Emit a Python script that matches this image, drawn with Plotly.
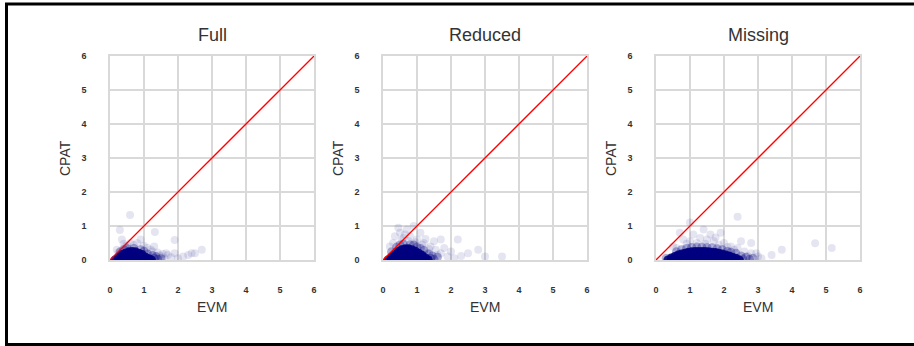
import plotly.graph_objects as go

# ---------------- data ----------------
panel_titles = ["Full", "Reduced", "Missing"]
axis_ticks = [0, 1, 2, 3, 4, 5, 6]
x_label = "EVM"
y_label = "CPAT"
diag_x = [0, 6]
diag_y = [0, 6]

# dense cores: one x per column, list of y values per column
full_core_x = [0.15, 0.25, 0.35, 0.45, 0.55, 0.65, 0.75, 0.85, 0.95, 1.05, 1.15, 1.22]
full_core_y = [[0.0], [0.0, 0.08], [0.0, 0.1, 0.16], [0.0, 0.1, 0.2],
               [0.0, 0.1, 0.2, 0.24], [0.0, 0.1, 0.2, 0.25], [0.0, 0.1, 0.2, 0.24],
               [0.0, 0.1, 0.2], [0.0, 0.1, 0.16], [0.0, 0.08], [0.0, 0.04], [0.0]]
full_mid_x = [1.3, 1.35, 1.4, 0.5, 0.7, 0.3, 0.9, 1.1, 1.25, 1.5, 0.4, 1.0]
full_mid_y = [0.05, 0.1, 0.02, 0.33, 0.34, 0.24, 0.3, 0.18, 0.13, 0.04, 0.3, 0.26]
full_halo_x = [0.2, 0.4, 0.6, 0.8, 1.0, 1.2, 1.4, 1.5, 1.6, 1.7, 1.8, 1.9, 2.0,
               0.35, 0.9, 1.3, 2.3, 2.5, 2.7, 0.59, 0.29, 1.32, 1.9, 2.4,
               0.5, 0.7, 1.1, 1.45, 1.65, 0.25, 0.45, 1.25, 1.55, 2.15]
full_halo_y = [0.3, 0.48, 0.5, 0.5, 0.42, 0.3, 0.22, 0.1, 0.05, 0.15, 0.08, 0.2, 0.05,
               0.6, 0.6, 0.4, 0.15, 0.2, 0.3, 1.32, 0.88, 0.82, 0.59, 0.2,
               0.42, 0.44, 0.36, 0.14, 0.2, 0.22, 0.4, 0.25, 0.18, 0.1]

reduced_core_x = [0.15, 0.25, 0.35, 0.45, 0.55, 0.65, 0.75, 0.85, 0.95, 1.05, 1.15, 1.25, 1.33]
reduced_core_y = [[0.0], [0.0, 0.08], [0.0, 0.1, 0.16], [0.0, 0.1, 0.2, 0.25],
                  [0.0, 0.1, 0.2, 0.3], [0.0, 0.1, 0.2, 0.3, 0.33],
                  [0.0, 0.1, 0.2, 0.3, 0.33], [0.0, 0.1, 0.2, 0.3],
                  [0.0, 0.1, 0.2, 0.26], [0.0, 0.1, 0.2], [0.0, 0.1, 0.14],
                  [0.0, 0.06], [0.0]]
reduced_mid_x = [1.4, 1.45, 1.5, 0.4, 0.6, 0.8, 1.0, 1.2, 1.35, 0.25, 1.6, 0.5, 0.9, 1.1]
reduced_mid_y = [0.05, 0.12, 0.02, 0.38, 0.46, 0.45, 0.38, 0.28, 0.18, 0.24, 0.08, 0.44, 0.44, 0.34]
reduced_halo_x = [0.2, 0.35, 0.5, 0.6, 0.8, 1.0, 1.2, 1.4, 1.55, 1.7, 1.8, 1.9, 2.0,
                  2.1, 0.45, 0.7, 1.1, 1.7, 2.2, 2.5, 2.8, 3.0, 3.5, 0.9, 1.3, 1.5,
                  0.3, 0.55, 0.75, 0.95, 1.15, 1.35, 1.6, 1.25, 0.65, 2.3]
reduced_halo_y = [0.4, 0.7, 0.8, 0.65, 0.7, 0.6, 0.5, 0.4, 0.3, 0.2, 0.35, 0.1, 0.25,
                  0.05, 0.95, 0.9, 0.8, 0.6, 0.6, 0.2, 0.3, 0.1, 0.1, 1.0, 0.2, 0.55,
                  0.5, 0.58, 0.56, 0.52, 0.45, 0.32, 0.15, 0.62, 0.75, 0.12]

missing_core_x = [0.35, 0.45, 0.55, 0.65, 0.75, 0.85, 0.95, 1.05, 1.15, 1.25, 1.35,
                  1.45, 1.55, 1.65, 1.75, 1.85, 1.95, 2.05, 2.15, 2.25, 2.35, 2.45]
missing_core_y = [[0.0], [0.0, 0.06], [0.0, 0.1], [0.0, 0.1, 0.15],
                  [0.0, 0.1, 0.18], [0.0, 0.1, 0.2], [0.0, 0.1, 0.2, 0.23],
                  [0.0, 0.1, 0.2, 0.24], [0.0, 0.1, 0.2, 0.25], [0.0, 0.1, 0.2, 0.25],
                  [0.0, 0.1, 0.2, 0.25], [0.0, 0.1, 0.2, 0.25], [0.0, 0.1, 0.2, 0.24],
                  [0.0, 0.1, 0.2, 0.23], [0.0, 0.1, 0.2, 0.22], [0.0, 0.1, 0.2],
                  [0.0, 0.1, 0.18], [0.0, 0.1, 0.15], [0.0, 0.1, 0.12],
                  [0.0, 0.08], [0.0, 0.05], [0.0]]
missing_mid_x = [2.55, 2.65, 2.75, 2.5, 2.85, 0.9, 1.2, 1.5, 1.8, 2.1, 2.35, 0.6, 0.3,
                 1.05, 1.35, 1.65, 1.95, 0.75, 2.2]
missing_mid_y = [0.03, 0.08, 0.02, 0.12, 0.05, 0.34, 0.38, 0.37, 0.33, 0.26, 0.2, 0.24, 0.05,
                 0.37, 0.38, 0.36, 0.3, 0.3, 0.23]
missing_halo_x = [0.5, 0.8, 1.0, 1.3, 1.5, 1.7, 2.0, 2.2, 2.4, 2.6, 2.8, 3.0, 3.1,
                  1.1, 1.6, 0.7, 2.5, 2.4, 2.8, 4.68, 5.17, 3.4, 1.9, 1.4, 1.0, 3.7,
                  0.9, 1.2, 1.45, 1.85, 2.1, 2.3, 2.7, 2.95, 0.6, 1.75]
missing_halo_y = [0.4, 0.6, 0.55, 0.65, 0.6, 0.55, 0.5, 0.4, 0.35, 0.25, 0.2, 0.1, 0.05,
                  0.75, 0.75, 0.8, 0.55, 1.27, 0.5, 0.49, 0.35, 0.15, 0.8, 0.9, 1.1, 0.3,
                  0.48, 0.5, 0.48, 0.45, 0.38, 0.3, 0.12, 0.2, 0.35, 0.66]

# ---------------- figure ----------------
W, H = 914, 346
NAVY = "#000080"
GRID = "#d9d9d9"
TEXT = "#333333"


def flatten(cols_x, cols_y):
    xs, ys = [], []
    for cx, cy in zip(cols_x, cols_y):
        for v in cy:
            xs.append(cx)
            ys.append(v)
    return xs, ys


panels = [
    (full_core_x, full_core_y, full_mid_x, full_mid_y, full_halo_x, full_halo_y),
    (reduced_core_x, reduced_core_y, reduced_mid_x, reduced_mid_y, reduced_halo_x, reduced_halo_y),
    (missing_core_x, missing_core_y, missing_mid_x, missing_mid_y, missing_halo_x, missing_halo_y),
]

left_px = [110, 383, 656]
plot_w = 204
top_px, bot_px = 56, 260

fig = go.Figure()
annotations = []
for i, (cx, cy, mx, my, hx, hy) in enumerate(panels):
    sfx = "" if i == 0 else str(i + 1)
    xa, ya = "x" + sfx, "y" + sfx
    kx, ky = flatten(cx, cy)
    fig.add_trace(go.Scatter(x=hx, y=hy, mode="markers", xaxis=xa, yaxis=ya,
                             marker=dict(color=NAVY, size=8, opacity=0.1, line=dict(width=0)),
                             showlegend=False, hoverinfo="skip"))
    fig.add_trace(go.Scatter(x=mx, y=my, mode="markers", xaxis=xa, yaxis=ya,
                             marker=dict(color=NAVY, size=9, opacity=0.3, line=dict(width=0)),
                             showlegend=False, hoverinfo="skip"))
    fig.add_trace(go.Scatter(x=kx, y=ky, mode="markers", xaxis=xa, yaxis=ya,
                             marker=dict(color=NAVY, size=9, opacity=0.9, line=dict(width=0)),
                             showlegend=False, hoverinfo="skip"))
    fig.add_trace(go.Scatter(x=diag_x, y=diag_y, mode="lines", xaxis=xa, yaxis=ya,
                             line=dict(color="#ff0000", width=1.3),
                             showlegend=False, hoverinfo="skip"))

    x0 = left_px[i] / W
    x1 = (left_px[i] + plot_w) / W
    common = dict(range=[0, 6], tickvals=axis_ticks, showgrid=True, gridcolor=GRID,
                  gridwidth=1.5, showline=True, linecolor=GRID, linewidth=1.5,
                  mirror=True, zeroline=False, ticks="outside", ticklen=20,
                  tickcolor="rgba(0,0,0,0)", automargin=False,
                  tickfont=dict(family="Liberation Sans, Arial", size=9, color=TEXT,
                                weight="bold"),
                  fixedrange=True)
    fig.update_layout(**{
        "xaxis" + sfx: dict(domain=[x0, x1], anchor=ya, **common),
        "yaxis" + sfx: dict(domain=[1 - bot_px / H, 1 - top_px / H], anchor=xa, **common),
    })
    cxm = (left_px[i] + plot_w / 2) / W
    annotations.append(dict(text=panel_titles[i], x=cxm, y=1 - 35 / H, xref="paper", yref="paper",
                            showarrow=False, xanchor="center", yanchor="middle",
                            font=dict(family="Liberation Sans, Arial", size=18, color=TEXT)))
    annotations.append(dict(text=x_label, x=cxm, y=1 - 307 / H, xref="paper", yref="paper",
                            showarrow=False, xanchor="center", yanchor="middle",
                            font=dict(family="Liberation Sans, Arial", size=14, color=TEXT)))
    annotations.append(dict(text=y_label, x=(left_px[i] - 45) / W, y=1 - 158 / H,
                            xref="paper", yref="paper", textangle=-90,
                            showarrow=False, xanchor="center", yanchor="middle",
                            font=dict(family="Liberation Sans, Arial", size=14, color=TEXT)))

# outer frame: top, left and bottom edges only (the right edge lies outside the picture)
fx0, fy_top, fy_bot = 6.5 / W, 1 - 4 / H, 1 - 344.5 / H
frame_line = dict(color="black", width=3)
fig.update_layout(
    width=W, height=H, margin=dict(l=0, r=0, t=0, b=0, autoexpand=False),
    paper_bgcolor="white", plot_bgcolor="white",
    annotations=annotations,
    shapes=[
        dict(type="line", xref="paper", yref="paper", x0=fx0 - 1.5 / W, x1=1, y0=fy_top, y1=fy_top,
             line=frame_line, layer="above"),
        dict(type="line", xref="paper", yref="paper", x0=fx0 - 1.5 / W, x1=1, y0=fy_bot, y1=fy_bot,
             line=frame_line, layer="above"),
        dict(type="line", xref="paper", yref="paper", x0=fx0, x1=fx0, y0=fy_bot, y1=fy_top,
             line=frame_line, layer="above"),
    ],
)

fig.write_html("out.html", config={"displayModeBar": False})
